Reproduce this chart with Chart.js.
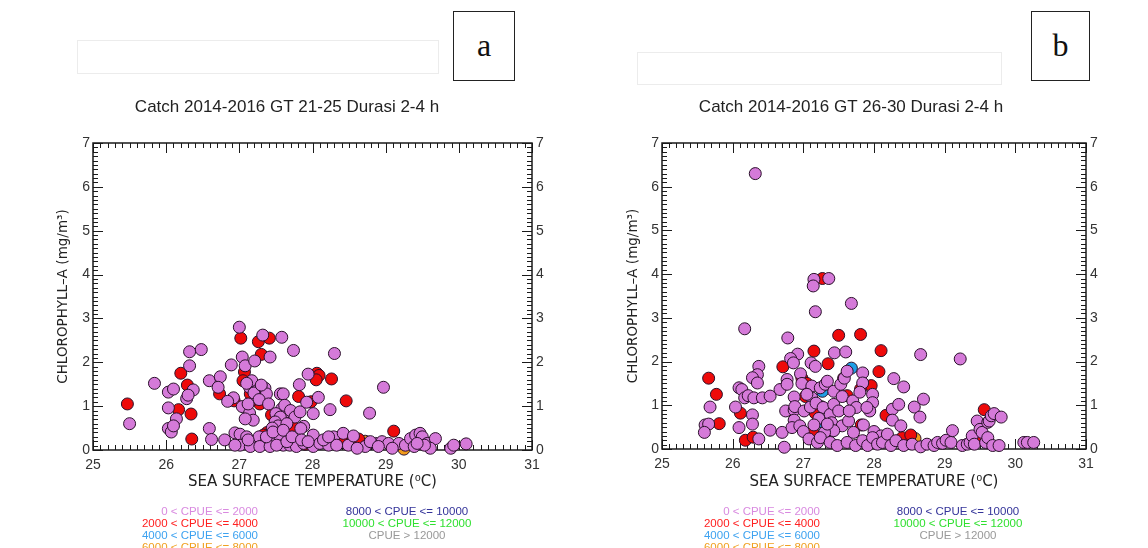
<!DOCTYPE html>
<html>
<head>
<meta charset="utf-8">
<script src="https://cdn.jsdelivr.net/npm/chart.js@4.4.1/dist/chart.umd.min.js"></script>
<style>
  body { margin: 0; background: #fff; width: 1148px; height: 548px; overflow: hidden; position: relative; font-family: "Liberation Sans", Arial, sans-serif; }
  canvas { position: absolute; }
  .faint { position: absolute; border: 1px solid #ececec; }
  .tag { position: absolute; border: 1.5px solid #222; font-family: "Liberation Serif", "DejaVu Serif", serif; font-size: 32px; text-align: center; color: #111; }
  .leg { position: absolute; font-size: 11.5px; line-height: 12px; white-space: nowrap; }
</style>
</head>
<body>
<div class="faint" style="left:77px;top:40px;width:360px;height:32px"></div>
<div class="faint" style="left:637px;top:52px;width:363px;height:31px"></div>
<div class="tag" style="left:453px;top:11px;width:60px;height:68px;line-height:66px">a</div>
<div class="tag" style="left:1031px;top:11px;width:57px;height:68px;line-height:66px">b</div>

<canvas id="panelA" width="574" height="458" style="left:0;top:90px"></canvas>
<canvas id="panelB" width="574" height="458" style="left:564px;top:90px"></canvas>

<div class="leg" style="right:890px;top:505px;text-align:right;color:#d98ae0">0 &lt; CPUE &lt;= 2000</div>
<div class="leg" style="right:890px;top:517px;text-align:right;color:#ff2020">2000 &lt; CPUE &lt;= 4000</div>
<div class="leg" style="right:890px;top:529px;text-align:right;color:#3da2f0">4000 &lt; CPUE &lt;= 6000</div>
<div class="leg" style="right:890px;top:541px;text-align:right;color:#f0a020">6000 &lt; CPUE &lt;= 8000</div>
<div class="leg" style="left:307px;width:200px;top:505px;text-align:center;color:#333399">8000 &lt; CPUE &lt;= 10000</div>
<div class="leg" style="left:307px;width:200px;top:517px;text-align:center;color:#30e030">10000 &lt; CPUE &lt;= 12000</div>
<div class="leg" style="left:307px;width:200px;top:529px;text-align:center;color:#999">CPUE &gt; 12000</div>

<div class="leg" style="right:328px;top:505px;text-align:right;color:#d98ae0">0 &lt; CPUE &lt;= 2000</div>
<div class="leg" style="right:328px;top:517px;text-align:right;color:#ff2020">2000 &lt; CPUE &lt;= 4000</div>
<div class="leg" style="right:328px;top:529px;text-align:right;color:#3da2f0">4000 &lt; CPUE &lt;= 6000</div>
<div class="leg" style="right:328px;top:541px;text-align:right;color:#f0a020">6000 &lt; CPUE &lt;= 8000</div>
<div class="leg" style="left:858px;width:200px;top:505px;text-align:center;color:#333399">8000 &lt; CPUE &lt;= 10000</div>
<div class="leg" style="left:858px;width:200px;top:517px;text-align:center;color:#30e030">10000 &lt; CPUE &lt;= 12000</div>
<div class="leg" style="left:858px;width:200px;top:529px;text-align:center;color:#999">CPUE &gt; 12000</div>

<script>
// axis ranges / tick labels
const sstTicks = [25, 26, 27, 28, 29, 30, 31];
const chlTicks = [0, 1, 2, 3, 4, 5, 6, 7];

// panel a: GT 21-25, [SST, CHL]
const aCpue0 = [[27.00,2.80],[27.32,2.62],[27.58,2.57],[27.42,2.12],[26.48,2.29],[26.32,2.24],[26.32,1.92],[27.74,2.27],[28.30,2.20],[26.89,1.94],[27.04,2.12],[27.08,1.92],[27.21,2.03],[25.84,1.52],[26.03,1.32],[26.10,1.39],[26.37,1.37],[26.28,1.17],[26.30,1.25],[26.03,0.96],[26.14,0.71],[25.50,0.60],[26.03,0.49],[26.07,0.41],[26.10,0.55],[26.59,1.58],[26.74,1.67],[26.71,1.43],[26.92,1.19],[26.84,1.11],[27.04,0.99],[27.14,1.43],[27.17,1.58],[27.24,1.35],[27.35,1.41],[27.37,1.28],[27.23,1.20],[27.14,0.84],[27.19,0.68],[27.08,0.71],[27.10,1.52],[27.20,1.30],[27.27,1.15],[27.30,1.48],[27.40,1.05],[27.12,1.05],[27.56,1.28],[27.60,1.28],[27.58,0.94],[27.65,0.87],[27.50,0.83],[27.56,0.75],[27.62,1.02],[27.70,0.90],[27.76,0.75],[27.83,0.87],[27.82,1.49],[27.94,1.73],[28.08,1.20],[28.01,0.83],[28.24,0.92],[27.92,1.09],[28.78,0.84],[28.97,1.43],[27.49,0.64],[27.53,0.55],[27.65,0.60],[27.45,0.50],[27.88,0.54],[27.84,0.49],[28.01,0.34],[26.59,0.49],[26.62,0.24],[26.80,0.23],[26.94,0.39],[27.01,0.36],[27.10,0.30],[27.01,0.11],[27.17,0.11],[27.27,0.30],[27.37,0.19],[27.44,0.15],[27.56,0.26],[27.60,0.11],[27.69,0.11],[27.78,0.08],[27.88,0.15],[28.01,0.08],[28.10,0.15],[28.22,0.11],[28.29,0.30],[28.42,0.38],[28.49,0.11],[28.56,0.32],[28.72,0.08],[28.86,0.15],[28.95,0.19],[29.04,0.15],[29.18,0.15],[29.27,0.11],[29.34,0.26],[29.41,0.34],[29.47,0.38],[29.50,0.30],[29.57,0.15],[29.68,0.26],[29.61,0.04],[29.89,0.04],[29.93,0.11],[30.10,0.14],[29.39,0.08],[29.53,0.11],[29.43,0.15],[28.33,0.11],[28.61,0.04],[28.79,0.19],[28.90,0.08],[29.09,0.04],[27.15,0.08],[27.28,0.08],[27.42,0.08],[27.51,0.11],[27.65,0.19],[27.37,0.30],[27.46,0.41],[27.60,0.45],[27.72,0.30],[27.85,0.23],[27.94,0.19],[28.15,0.23],[28.22,0.30],[27.12,0.23],[26.94,0.11]];
const aCpue2000 = [[25.47,1.05],[26.20,1.75],[26.29,1.48],[26.17,0.92],[26.34,0.82],[26.35,0.25],[26.73,1.28],[27.02,2.55],[27.07,1.78],[27.05,1.58],[27.26,2.47],[27.30,2.18],[27.41,2.55],[26.93,1.12],[27.44,0.80],[27.72,0.55],[27.81,1.22],[27.98,1.10],[28.06,1.75],[28.09,1.70],[28.05,1.60],[28.26,1.62],[28.46,1.12],[27.90,0.13],[28.40,0.26],[28.63,0.25],[29.11,0.43],[27.38,0.40],[27.33,0.34],[27.28,1.05],[27.17,1.13],[27.15,1.28]];
const aCpue4000 = [];
const aCpue6000 = [[28.55,0.27],[28.72,0.20],[29.25,0.02]];
const aCpue10000 = [];

// panel b: GT 26-30
const bCpue0 = [[26.32,6.30],[26.17,2.75],[27.15,3.88],[27.14,3.73],[27.36,3.90],[27.17,3.14],[27.68,3.33],[26.78,2.54],[26.92,2.17],[26.82,2.07],[26.86,1.97],[27.11,1.97],[27.17,1.89],[27.44,2.20],[27.60,2.22],[28.66,2.16],[29.22,2.06],[28.28,1.61],[28.42,1.42],[27.84,1.74],[27.84,1.51],[27.98,1.25],[27.98,1.06],[27.94,0.87],[28.70,1.14],[28.57,0.96],[28.65,0.73],[28.26,0.91],[28.35,1.02],[28.26,0.66],[28.38,0.53],[26.37,1.89],[26.35,1.70],[26.28,1.63],[26.35,1.51],[26.09,1.40],[26.13,1.36],[26.17,1.17],[26.22,1.22],[26.30,1.17],[26.42,1.17],[26.53,1.21],[26.04,0.96],[25.68,0.96],[25.61,0.55],[25.66,0.57],[25.60,0.38],[26.09,0.49],[26.28,0.78],[26.28,0.57],[26.53,0.43],[26.37,0.23],[26.70,0.38],[26.73,0.04],[26.67,1.36],[26.77,1.59],[26.77,1.48],[26.87,1.19],[26.75,0.87],[26.87,0.89],[26.88,0.97],[26.87,0.66],[26.84,0.49],[26.95,0.53],[26.96,1.72],[26.98,1.50],[27.12,1.44],[27.12,1.17],[27.01,0.87],[27.10,0.96],[27.05,1.25],[27.18,1.05],[27.28,0.95],[27.22,0.70],[27.00,0.40],[27.15,0.55],[27.24,1.40],[27.31,1.48],[27.34,1.55],[27.43,1.32],[27.38,0.79],[27.43,1.02],[27.40,0.60],[27.50,0.87],[27.53,1.48],[27.55,1.20],[27.58,1.62],[27.62,1.78],[27.70,1.10],[27.75,0.95],[27.80,1.30],[27.90,0.95],[27.55,0.53],[27.64,0.64],[27.65,0.87],[27.71,0.38],[27.85,0.55],[28.00,0.40],[28.10,0.30],[27.43,0.42],[27.30,0.38],[27.34,0.57],[27.08,0.23],[27.20,0.15],[27.24,0.26],[27.38,0.15],[27.48,0.08],[27.62,0.15],[27.74,0.08],[27.84,0.19],[27.91,0.08],[27.98,0.26],[28.05,0.11],[28.12,0.15],[28.19,0.34],[28.24,0.08],[28.31,0.19],[28.42,0.08],[28.54,0.11],[28.66,0.05],[28.75,0.11],[28.85,0.08],[28.90,0.15],[28.97,0.13],[29.02,0.20],[29.09,0.15],[29.11,0.42],[29.25,0.08],[29.32,0.11],[29.36,0.15],[29.39,0.30],[29.42,0.11],[29.46,0.64],[29.50,0.45],[29.53,0.38],[29.58,0.15],[29.61,0.26],[29.61,0.61],[29.63,0.64],[29.66,0.76],[29.70,0.81],[29.80,0.73],[29.68,0.08],[29.77,0.08],[30.12,0.15],[30.17,0.15],[30.26,0.15]];
const bCpue2000 = [[25.66,1.62],[25.77,1.25],[25.81,0.58],[26.11,0.82],[26.18,0.20],[26.29,0.27],[26.71,1.88],[26.98,1.62],[27.03,1.20],[27.05,1.50],[27.15,2.24],[27.27,3.90],[27.35,1.95],[27.50,2.60],[27.81,2.62],[27.57,1.62],[27.62,1.22],[27.81,1.37],[27.82,0.55],[27.96,1.45],[28.07,1.77],[28.10,2.25],[28.17,0.77],[27.13,0.40],[27.17,0.82],[28.40,0.26],[28.52,0.32],[29.56,0.90],[29.46,0.18]];
const bCpue4000 = [[27.68,1.85],[27.27,1.32],[27.22,0.62],[28.51,0.12]];
const bCpue6000 = [[27.19,0.88],[28.58,0.24]];
const bCpue10000 = [[27.25,0.97]];

const colors = { c0: '#d57ad9', c2000: '#ee0a0a', c4000: '#1e9fe6', c6000: '#f09a1c', c10000: '#12d412' };

Chart.defaults.font.family = '"Liberation Sans", Arial, sans-serif';
const wideFont = '"DejaVu Sans", Verdana, sans-serif';

const idlFrame = {
    id: 'idlFrame',
    beforeDatasetsDraw(chart) {
        const { ctx, chartArea: a, scales: { x, y } } = chart;
        ctx.save();
        ctx.strokeStyle = '#1a1a1a';
        ctx.lineWidth = 1;
        ctx.beginPath();
        const x0 = sstTicks[0], x1 = sstTicks[sstTicks.length - 1];
        for (let i = 0; i <= (x1 - x0) * 10; i++) {
            const px = Math.round(x.getPixelForValue(x0 + i / 10)) + 0.5;
            const len = i % 10 === 0 ? 10 : 5;
            ctx.moveTo(px, a.bottom); ctx.lineTo(px, a.bottom - len);
            ctx.moveTo(px, a.top); ctx.lineTo(px, a.top + len);
        }
        const y0 = chlTicks[0], y1 = chlTicks[chlTicks.length - 1];
        for (let i = 0; i <= (y1 - y0) * 10; i++) {
            const py = Math.round(y.getPixelForValue(y0 + i / 10)) + 0.5;
            const len = i % 10 === 0 ? 10 : 5;
            ctx.moveTo(a.left, py); ctx.lineTo(a.left + len, py);
            ctx.moveTo(a.right, py); ctx.lineTo(a.right - len, py);
        }
        ctx.stroke();
        ctx.lineWidth = 1.5;
        ctx.strokeRect(a.left, a.top, a.right - a.left, a.bottom - a.top);
        ctx.restore();
    }
};

function toPoints(list) {
    return list.map(p => ({ x: p[0], y: p[1] }));
}

function makeDataset(list, color) {
    return {
        data: toPoints(list),
        backgroundColor: color,
        borderColor: '#2a102a',
        borderWidth: 1,
        pointRadius: 6,
        pointHoverRadius: 6,
        clip: false
    };
}

function makePanel(id, title, sets, dims) {
    const tickFont = { size: 14 };
    const hidden = { display: false, drawTicks: false };
    return new Chart(document.getElementById(id), {
        type: 'scatter',
        data: {
            datasets: [
                makeDataset(sets[0], colors.c0),
                makeDataset(sets[1], colors.c2000),
                makeDataset(sets[2], colors.c6000),
                makeDataset(sets[3], colors.c4000),
                makeDataset(sets[4], colors.c10000)
            ]
        },
        options: {
            responsive: false,
            animation: false,
            events: [],
            layout: { padding: 0 },
            plugins: {
                legend: { display: false },
                tooltip: { enabled: false },
                title: {
                    display: true,
                    text: title,
                    color: '#222',
                    font: { size: 17, weight: 'normal' },
                    padding: { top: 7, bottom: 10 }
                }
            },
            scales: {
                x: {
                    type: 'linear', position: 'bottom',
                    min: sstTicks[0], max: sstTicks[sstTicks.length - 1],
                    ticks: { stepSize: 1, padding: 7, color: '#333', font: tickFont },
                    grid: hidden, border: { display: false },
                    title: { display: true, text: 'SEA SURFACE TEMPERATURE (⁰C)', color: '#222', font: { size: 15, family: wideFont }, padding: { top: 0, bottom: 57 } },
                    afterFit: s => { s.height = dims.bottomH; }
                },
                x2: {
                    type: 'linear', position: 'top',
                    min: sstTicks[0], max: sstTicks[sstTicks.length - 1],
                    ticks: { display: false }, grid: hidden, border: { display: false },
                    afterFit: s => { s.height = 15.6; }
                },
                y: {
                    type: 'linear', position: 'left',
                    min: chlTicks[0], max: chlTicks[chlTicks.length - 1],
                    ticks: { stepSize: 1, padding: 3, color: '#333', font: tickFont },
                    grid: hidden, border: { display: false },
                    title: { display: true, text: 'CHLOROPHYLL–A (mg/m³)', color: '#222', font: { size: 13.5, family: wideFont }, padding: { top: dims.yTitlePad, bottom: 0 } },
                    afterFit: s => { s.width = dims.leftW; }
                },
                y2: {
                    type: 'linear', position: 'right',
                    min: chlTicks[0], max: chlTicks[chlTicks.length - 1],
                    ticks: { stepSize: 1, padding: 4, color: '#333', font: tickFont },
                    grid: hidden, border: { display: false },
                    afterFit: s => { s.width = dims.rightW; }
                }
            }
        },
        plugins: [idlFrame]
    });
}

makePanel('panelA', 'Catch 2014-2016 GT 21-25 Durasi 2-4 h',
    [aCpue0, aCpue2000, aCpue6000, aCpue4000, aCpue10000],
    { leftW: 93, rightW: 42, bottomH: 98, yTitlePad: 55 });

makePanel('panelB', 'Catch 2014-2016 GT 26-30 Durasi 2-4 h',
    [bCpue0, bCpue2000, bCpue6000, bCpue4000, bCpue10000],
    { leftW: 98, rightW: 52, bottomH: 99, yTitlePad: 61 });
</script>
</body>
</html>
